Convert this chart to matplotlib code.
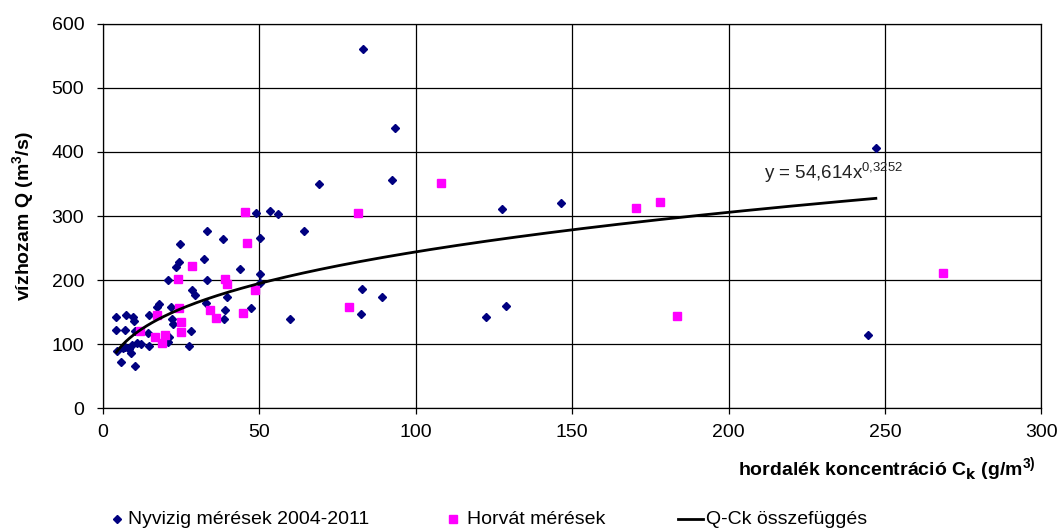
import matplotlib
matplotlib.use("Agg")
import matplotlib.pyplot as plt
from matplotlib.lines import Line2D
import numpy as np

plt.rcParams['font.family'] = ['Liberation Sans', 'DejaVu Sans']

# Nyvizig measurements 2004-2011 (concentration g/m3, discharge m3/s)
nyvizig_x = [83.2, 93.4, 92.3, 69.2, 247.1, 244.5, 127.5, 146.4, 122.4, 128.9,
             89.3, 82.8, 82.4, 64.4, 59.8, 53.3, 55.9, 48.8, 50.3, 50.2,
             50.2, 47.3, 43.9, 33.2, 38.3, 24.7, 32.4, 24.2, 23.5, 20.9,
             33.3, 28.6, 29.5, 39.8, 33.1, 18.0, 17.3, 21.8, 14.6, 38.9,
             38.8, 4.3, 7.3, 9.7, 9.9, 22.1, 22.5, 4.3, 7.2, 10.3,
             28.3, 21.0, 20.8, 9.4, 10.8, 12.1, 14.8, 14.4, 27.4, 6.3,
             8.3, 9.1, 7.2, 5.9, 10.4, 4.6]
nyvizig_y = [561, 437, 356, 350, 406, 115, 311, 320, 142, 159,
             174, 186, 147, 276, 139, 308, 303, 305, 266, 210,
             195, 157, 217, 276, 264, 257, 233, 228, 220, 200,
             200, 185, 177, 174, 164, 163, 158, 158, 145, 154,
             139, 143, 145, 143, 136, 140, 131, 122, 122, 121,
             120, 112, 104, 99, 102, 101, 98, 117, 98, 94,
             93, 86, 96, 72, 66, 90]

# Horvát measurements
horvat_x = [45.5, 45.9, 81.6, 108.1, 48.5, 44.9, 78.6, 170.5, 178.1, 183.6,
            268.7, 28.5, 24.1, 39.0, 39.6, 24.4, 34.1, 36.1, 25.1, 24.9,
            17.3, 12.0, 19.9, 16.6, 18.8]
horvat_y = [307, 258, 305, 351, 184, 149, 158, 312, 322, 144,
            212, 222, 202, 202, 194, 156, 153, 141, 134, 119,
            146, 121, 114, 112, 102]

# power-law fit Q = a * Ck^b
fit_a = 54.614
fit_b = 0.3252

W, H = 1059, 529
fig = plt.figure(figsize=(W / 100, H / 100), dpi=100)
ax = fig.add_axes([0.0972, 0.228, 0.8861, 0.727])

ax.plot(nyvizig_x, nyvizig_y, linestyle='none', marker='D', markersize=4.2,
        color='#000080', zorder=3)
ax.plot(horvat_x, horvat_y, linestyle='none', marker='s', markersize=6.0,
        color='#FF00FF', zorder=3)

xs = np.linspace(min(nyvizig_x), max(nyvizig_x), 400)
ax.plot(xs, fit_a * xs ** fit_b, color='black', linewidth=2.0, zorder=4)

ax.text(211.5, 358, r'y = 54,614x$^{\mathregular{0{,}3252}}$', fontsize=13.5,
        color='#222222')

ax.set_xlim(0, 300)
ax.set_ylim(0, 600)
ax.set_xticks(np.arange(0, 301, 50))
ax.set_yticks(np.arange(0, 601, 100))
ax.grid(True, color='black', linewidth=0.9)
ax.set_axisbelow(True)
for s in ax.spines.values():
    s.set_color('black')
    s.set_linewidth(0.9)
ax.tick_params(axis='both', direction='out', length=4.5, width=0.9,
               labelsize=14, colors='black')
ax.tick_params(axis='x', pad=7)
ax.tick_params(axis='y', pad=9)

fig.text(24 / W, 1 - 216 / H, 'vízhozam Q (m$^\\mathregular{3}$/s)', fontsize=14,
         fontweight='bold', rotation=90, ha='center', va='center')
fig.text(1036 / W, 1 - 470 / H,
         r'hordalék koncentráció C$_\mathbf{k}$ (g/m$^\mathregular{3)}$',
         fontsize=14, fontweight='bold', ha='right', va='center')

# legend row along the bottom
leg_y = 1 - 519 / H
legend_items = [
    (117, 128, dict(marker='D', markersize=4.2, color='#000080', linestyle='none'),
     'Nyvizig mérések 2004-2011'),
    (453, 467, dict(marker='s', markersize=6.0, color='#FF00FF', linestyle='none'),
     'Horvát mérések'),
    (None, 706, dict(color='black', linewidth=2.0), 'Q-Ck összefüggés'),
]
for mx, tx, style, label in legend_items:
    if mx is None:
        fig.add_artist(Line2D([678 / W, 703 / W], [leg_y, leg_y],
                              transform=fig.transFigure, **style))
    else:
        fig.add_artist(Line2D([mx / W], [leg_y], transform=fig.transFigure, **style))
    fig.text(tx / W, leg_y, label, fontsize=14, ha='left', va='center')

fig.savefig('out.png', dpi=100)
